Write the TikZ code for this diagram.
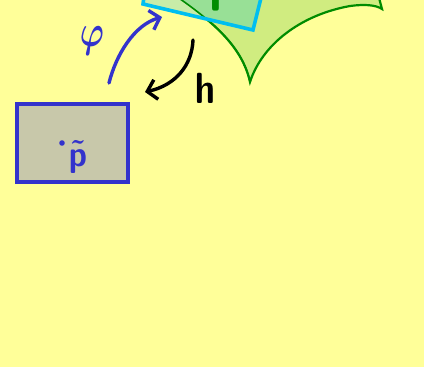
\documentclass[tikz,border=0pt]{standalone}
\usepackage{amsmath,amssymb,bm}
\usetikzlibrary{arrows.meta}

\definecolor{fondo}{RGB}{255,255,153}
\definecolor{superficie}{RGB}{208,236,128}
\definecolor{borde}{RGB}{0,140,0}
\definecolor{cian}{RGB}{0,190,240}
\definecolor{cartaclara}{RGB}{200,236,168}
\definecolor{cartaoscura}{RGB}{152,224,150}
\definecolor{azul}{RGB}{51,51,204}
\definecolor{caja}{RGB}{200,200,170}

\begin{document}
\begin{tikzpicture}[x=1pt,y=-1pt,
  flecha/.style={line width=3.4pt, line cap=round,
    -{Straight Barb[length=9pt,width=20pt,line width=3.4pt]}},
  letra/.style={font=\Huge\boldmath}]
  \useasboundingbox (0,0) rectangle (424,367);
  \clip (0,0) rectangle (424,367);
  \fill[fondo] (0,0) rectangle (424,367);

  % Superficie
  \def\superficie{(176,-4) .. controls (210,20) and (242,45) .. (250,82)
    .. controls (262,45) and (300,15) .. (350,6)
    .. controls (365,4) and (376,5) .. (382,9) -- (378,-6) -- cycle}
  \fill[superficie] \superficie;
  \draw[borde, line width=2.2pt] (176,-4) .. controls (210,20) and (242,45) .. (250,82)
    .. controls (262,45) and (300,15) .. (350,6)
    .. controls (365,4) and (376,5) .. (382,9) -- (378,-6);

  % Carta
  \coordinate (Q1) at (143,4);
  \coordinate (Q2) at (253,30);
  \coordinate (Q3) at (268,-30);
  \coordinate (Q4) at (150,-50);
  \fill[cartaclara] (Q1) -- (Q2) -- (Q3) -- (Q4) -- cycle;
  \begin{scope}
    \clip \superficie;
    \fill[cartaoscura] (Q1) -- (Q2) -- (Q3) -- (Q4) -- cycle;
  \end{scope}
  \draw[borde, line width=1.6pt] (176,-4) .. controls (210,20) and (242,45) .. (250,82);
  \draw[cian, line width=3.6pt, line join=miter] (Q4) -- (Q1) -- (Q2) -- (Q3);
  \node[borde, letra, anchor=base] (p) at (223,-1) {\scalebox{2}[2.4]{$\mathsf{p}$}};

  % Abierto
  \node[draw=azul, fill=caja, line width=3.4pt, minimum width=111pt,
    minimum height=78pt, inner sep=0pt] (U) at (72.5,143) {};
  \fill[azul] (62,143) circle (2.8pt);
  \node[azul, letra] (pt) at (78,157) {\scalebox{1.3}[1.45]{$\tilde{\mathsf{p}}$}};

  % Flechas
  \coordinate (phiA) at (109,83);
  \coordinate (phiB) at (162,17);
  \coordinate (hA) at (193,40);
  \coordinate (hB) at (145,92);
  \draw[flecha, azul] (phiA) .. controls (116,55) and (134,25) .. (phiB);
  \draw[flecha, black] (hA) .. controls (192,65) and (176,85) .. (hB);

  % Etiquetas
  \node[azul, letra] (phi) at (92,41) {\scalebox{1.3}[1.8]{$\varphi$}};
  \node[black, letra] (h) at (205,88) {\scalebox{1.45}[1.75]{$\mathsf{h}$}};
\end{tikzpicture}
\end{document}
